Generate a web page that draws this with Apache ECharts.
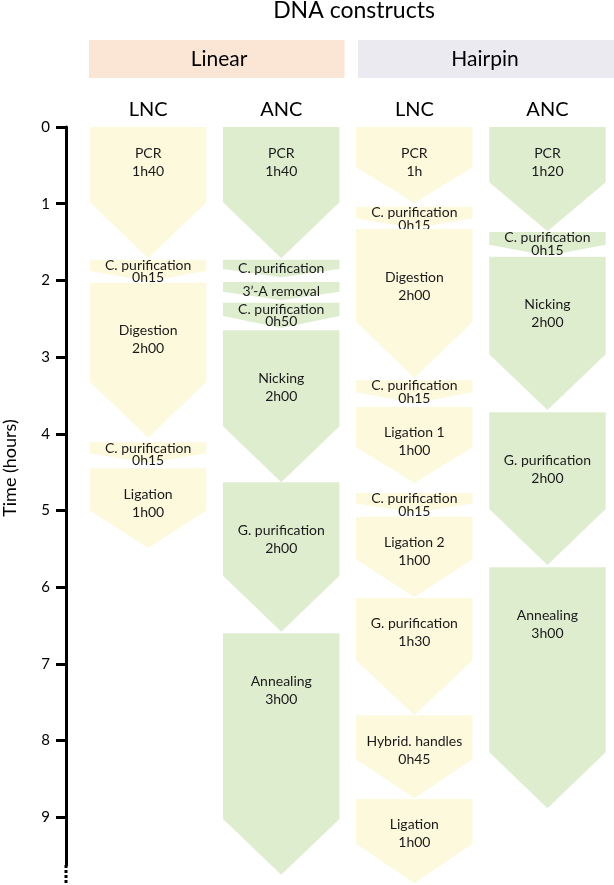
<!DOCTYPE html>
<html><head><meta charset="utf-8">
<script src="https://cdn.jsdelivr.net/npm/echarts@6/dist/echarts.min.js"></script>
<style>html,body{margin:0;padding:0;background:#fff}#c{width:614px;height:885px}</style>
</head><body><div id="c"></div>
<script>
// ---- data ----
const columnKeys = ['Linear LNC', 'Linear ANC', 'Hairpin LNC', 'Hairpin ANC'];
const columnLabels = ['LNC', 'ANC', 'LNC', 'ANC'];
const groupLabels = ['Linear', 'Hairpin'];
const timeTicks = [0, 1, 2, 3, 4, 5, 6, 7, 8, 9];
const axisSolidEnd = 9.62;
const axisDottedEnd = 9.86;

// [step, duration, start (h), end (h)]
const linearLNC = [
  ['PCR', '1h40', 0, 1.71],
  ['C. purification', '0h15', 1.73, 2.01],
  ['Digestion', '2h00', 2.03, 4.05],
  ['C. purification', '0h15', 4.11, 4.38],
  ['Ligation', '1h00', 4.45, 5.49]
];
const linearANC = [
  ['PCR', '1h40', 0, 1.71],
  ['C. purification', '', 1.73, 1.96],
  ['3\u2019-A removal', '', 2.02, 2.26],
  ['C. purification', '0h50', 2.29, 2.62],
  ['Nicking', '2h00', 2.65, 4.63],
  ['G. purification', '2h00', 4.63, 6.58],
  ['Annealing', '3h00', 6.60, 9.75]
];
const hairpinLNC = [
  ['PCR', '1h', 0, 0.99],
  ['C. purification', '0h15', 1.04, 1.32],
  ['Digestion', '2h00', 1.33, 3.27],
  ['C. purification', '0h15', 3.30, 3.60],
  ['Ligation 1', '1h00', 3.65, 4.64],
  ['C. purification', '0h15', 4.77, 5.03],
  ['Ligation 2', '1h00', 5.08, 6.13],
  ['G. purification', '1h30', 6.14, 7.67],
  ['Hybrid. handles', '0h45', 7.67, 8.75],
  ['Ligation', '1h00', 8.76, 9.86]
];
const hairpinANC = [
  ['PCR', '1h20', 0, 1.36],
  ['C. purification', '0h15', 1.37, 1.68],
  ['Nicking', '2h00', 1.69, 3.69],
  ['G. purification', '2h00', 3.72, 5.71],
  ['Annealing', '3h00', 5.74, 8.88]
];

// ---- styles ----
const FONT = 'Lato';
const columnColors = ['#FCF9DD', '#DFEDCF', '#FCF9DD', '#DFEDCF'];
const AXIS_OFFSET = 15.6;

const columnSteps = [linearLNC, linearANC, hairpinLNC, hairpinANC];
const steps = [];
columnSteps.forEach((arr, ci) => arr.forEach(s => steps.push({ col: ci, name: s[0], dur: s[1], start: s[2], end: s[3] })));

function renderStep(params, api) {
  const st = steps[params.dataIndex];
  const p0 = api.coord([api.value(0), api.value(1)]);
  const p1 = api.coord([api.value(0), api.value(2)]);
  const w = api.size([1, 0])[0] * 0.875;
  const x0 = p0[0] - w / 2, x1 = p0[0] + w / 2, xc = p0[0];
  const y0 = p0[1], y1 = p1[1];
  const h = y1 - y0;
  const depth = Math.min(0.48 * w, 0.47 * h);
  const children = [{
    type: 'polygon',
    shape: { points: [[x0, y0], [x1, y0], [x1, y1 - depth], [xc, y1], [x0, y1 - depth]] },
    style: { fill: columnColors[st.col] }
  }];
  let text, cy, lh;
  if (h < 40) {
    lh = 12.5;
    text = st.dur ? st.name + '\n' + st.dur : st.name;
    cy = st.dur ? y0 + Math.max(h / 2, 12) : y0 + h / 2;
  } else {
    lh = 18;
    text = st.name + '\n' + st.dur;
    cy = y0 + (h > 140 ? 57 : 35);
  }
  children.push({
    type: 'text',
    style: {
      text: text, x: xc, y: cy, align: 'center', verticalAlign: 'middle',
      fontSize: 14, fontFamily: FONT, lineHeight: lh, fill: '#1a1a1a'
    }
  });
  return { type: 'group', children: children };
}

function renderAxisExt(params, api) {
  const a = api.coord([0, api.value(0)]);
  const b = api.coord([0, api.value(1)]);
  const x = params.coordSys.x - AXIS_OFFSET;
  return {
    type: 'line',
    shape: { x1: x, y1: a[1], x2: x, y2: b[1] },
    style: { stroke: '#000', lineWidth: 3, lineDash: [3, 2] }
  };
}

const chart = echarts.init(document.getElementById('c'), null, { renderer: 'canvas' });
chart.setOption({
  animation: false,
  backgroundColor: '#fff',
  textStyle: { fontFamily: FONT },
  grid: { left: 81.6, width: 539.3, top: 127, height: 737.9 },
  xAxis: {
    type: 'category', position: 'top', data: columnKeys,
    axisLine: { show: false }, axisTick: { show: false }, splitLine: { show: false },
    axisLabel: { formatter: (v, i) => columnLabels[i], fontSize: 20, color: '#000', margin: 7, fontFamily: FONT }
  },
  yAxis: {
    type: 'value', inverse: true, min: 0, max: axisSolidEnd, interval: 1, offset: AXIS_OFFSET,
    axisLine: { show: true, lineStyle: { color: '#000', width: 3 } },
    axisTick: { show: true, length: 10, customValues: timeTicks, lineStyle: { color: '#000', width: 3 } },
    axisLabel: { customValues: timeTicks, fontSize: 15, color: '#000', margin: 16, fontFamily: FONT },
    splitLine: { show: false }
  },
  graphic: [
    { type: 'text', style: { text: 'DNA constructs', x: 354, y: 11, align: 'center', verticalAlign: 'middle', fontSize: 23, fontFamily: FONT, fill: '#000' } },
    { type: 'rect', shape: { x: 89, y: 40, width: 255.5, height: 38 }, style: { fill: '#FBE6D5' } },
    { type: 'rect', shape: { x: 358, y: 40, width: 260, height: 38 }, style: { fill: '#ECEAF1' } },
    { type: 'text', style: { text: groupLabels[0], x: 219, y: 59, align: 'center', verticalAlign: 'middle', fontSize: 21, fontFamily: FONT, fill: '#000' } },
    { type: 'text', style: { text: groupLabels[1], x: 485, y: 59, align: 'center', verticalAlign: 'middle', fontSize: 21, fontFamily: FONT, fill: '#000' } },
    { type: 'text', x: 10, y: 468, rotation: Math.PI / 2, style: { text: 'Time (hours)', x: 0, y: 0, align: 'center', verticalAlign: 'middle', fontSize: 18, fontFamily: FONT, fill: '#000' } }
  ],
  series: [
    {
      type: 'custom', name: 'steps', renderItem: renderStep, clip: false,
      encode: { x: 0, y: [1, 2] },
      data: steps.map(s => [s.col, s.start, s.end])
    },
    {
      type: 'custom', name: 'axisExt', renderItem: renderAxisExt, clip: false,
      encode: { y: [0, 1] },
      data: [[axisSolidEnd, axisDottedEnd]]
    }
  ]
});
</script></body></html>
